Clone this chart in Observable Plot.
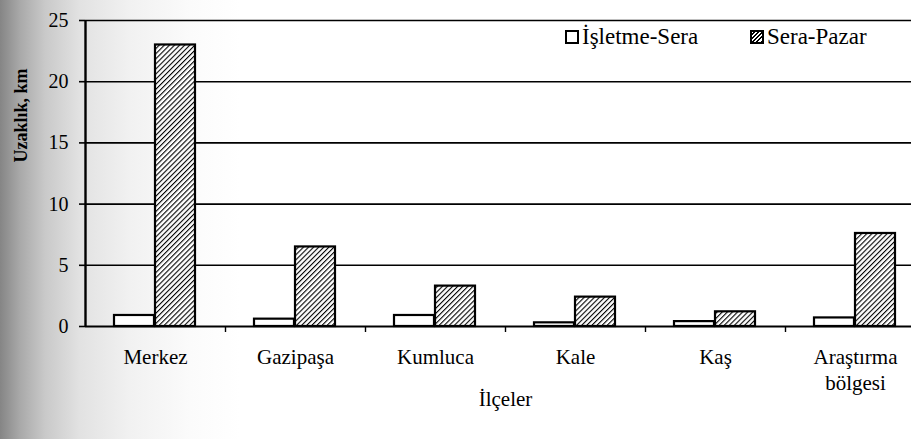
<!DOCTYPE html>
<html>
<head>
<meta charset="utf-8">
<script src="https://cdn.jsdelivr.net/npm/d3@7"></script>
<script src="https://cdn.jsdelivr.net/npm/@observablehq/plot@0.6"></script>
<style>
  html, body { margin: 0; padding: 0; }
  body {
    width: 911px; height: 439px; overflow: hidden; position: relative;
    background: linear-gradient(to right, #858585 0px, #a9a9a9 20px, #c9c9c9 45px, #e2e2e2 80px, #f1f1f1 130px, #fbfbfb 190px, #ffffff 240px);
    font-family: "Liberation Serif", "Times New Roman", "DejaVu Serif", serif;
  }
  #chart { position: absolute; left: 0; top: 0; }
  #legend { position: absolute; left: 0; top: 0; width: 911px; height: 60px; pointer-events: none; }
  .lg { position: absolute; top: 24px; font-family: "Liberation Serif", "Times New Roman", serif; font-size: 23px; line-height: 26px; color: #000; white-space: nowrap; display: flex; align-items: center; }
  .sw { width: 10px; height: 10px; border: 2px solid #000; margin-right: 3px; background: #fff; }
  .sw.h { background: repeating-linear-gradient(-45deg, #000 0 1.4px, #fff 1.4px 3px); }
  svg text { font-family: "Liberation Serif", "Times New Roman", serif !important; }
</style>
</head>
<body>
<div id="chart"></div>
<div id="legend">
  <div class="lg" style="left:565px"><span class="sw"></span><span id="lg1"></span></div>
  <div class="lg" style="left:750px"><span class="sw h"></span><span id="lg2"></span></div>
</div>
<script>
const categories = ["Merkez", "Gazipaşa", "Kumluca", "Kale", "Kaş", "Araştırma\nbölgesi"];
const seriesNames = ["İşletme-Sera", "Sera-Pazar"];
const isletmeSera = [0.9, 0.6, 0.9, 0.3, 0.4, 0.7];
const seraPazar = [23.0, 6.5, 3.3, 2.4, 1.2, 7.6];
const yTicks = [0, 5, 10, 15, 20, 25];
const gridValues = [5, 10, 15, 20, 25];
const yLabel = "Uzaklık, km";
const xLabel = "İlçeler";

document.getElementById("lg1").textContent = seriesNames[0];
document.getElementById("lg2").textContent = seriesNames[1];

const dataA = categories.map((c, i) => ({cat: c, value: isletmeSera[i]}));
const dataB = categories.map((c, i) => ({cat: c, value: seraPazar[i]}));

const font = "Liberation Serif, Times New Roman, serif";

const plot = Plot.plot({
  width: 911,
  height: 439,
  marginLeft: 85,
  marginRight: -14,
  marginTop: 20,
  marginBottom: 113,
  style: {background: "transparent", fontFamily: font, color: "#000", overflow: "visible"},
  x: {type: "band", domain: categories, padding: 0},
  y: {domain: [0, 25]},
  marks: [
    Plot.ruleY(gridValues, {stroke: "#000", strokeWidth: 1.6}),
    Plot.barY(dataA, {x: "cat", y: "value", fill: "#fff", stroke: "#000", strokeWidth: 2.2, insetLeft: 29, insetRight: 71}),
    Plot.barY(dataB, {x: "cat", y: "value", fill: "url(#hatch)", stroke: "#000", strokeWidth: 2.2, insetLeft: 70, insetRight: 30}),
    Plot.ruleY([0], {stroke: "#000", strokeWidth: 2.2}),
    Plot.ruleX([categories[0]], {dx: -70, stroke: "#000", strokeWidth: 2.4}),
    Plot.axisY({ticks: yTicks, tickSize: 6, tickPadding: 11, fontSize: 20, fontFamily: font, label: null, strokeWidth: 1.6}),
    Plot.axisX({tickSize: 0, tickPadding: 20, fontSize: 21, fontFamily: font, label: null, lineHeight: 1.2}),
    Plot.axisX({ticks: categories.slice(1), tickSize: 6, tickFormat: null, dx: -70, label: null, strokeWidth: 1.4}),
    Plot.text([yLabel], {frameAnchor: "left", rotate: -90, dx: -64, dy: -11, fontWeight: "bold", fontSize: 18, fontFamily: font}),
    Plot.text([xLabel], {frameAnchor: "bottom", dy: 79, fontSize: 21, fontFamily: font})
  ]
});

// hatch pattern definition
const ns = "http://www.w3.org/2000/svg";
const defs = document.createElementNS(ns, "defs");
defs.innerHTML = `<pattern id="hatch" patternUnits="userSpaceOnUse" width="3.6" height="3.6" patternTransform="rotate(45)">
  <rect width="3.6" height="3.6" fill="#fff"/>
  <line x1="0" y1="0" x2="0" y2="3.6" stroke="#000" stroke-width="2.2"/>
</pattern>`;
plot.insertBefore(defs, plot.firstChild);
document.getElementById("chart").appendChild(plot);
</script>
</body>
</html>
